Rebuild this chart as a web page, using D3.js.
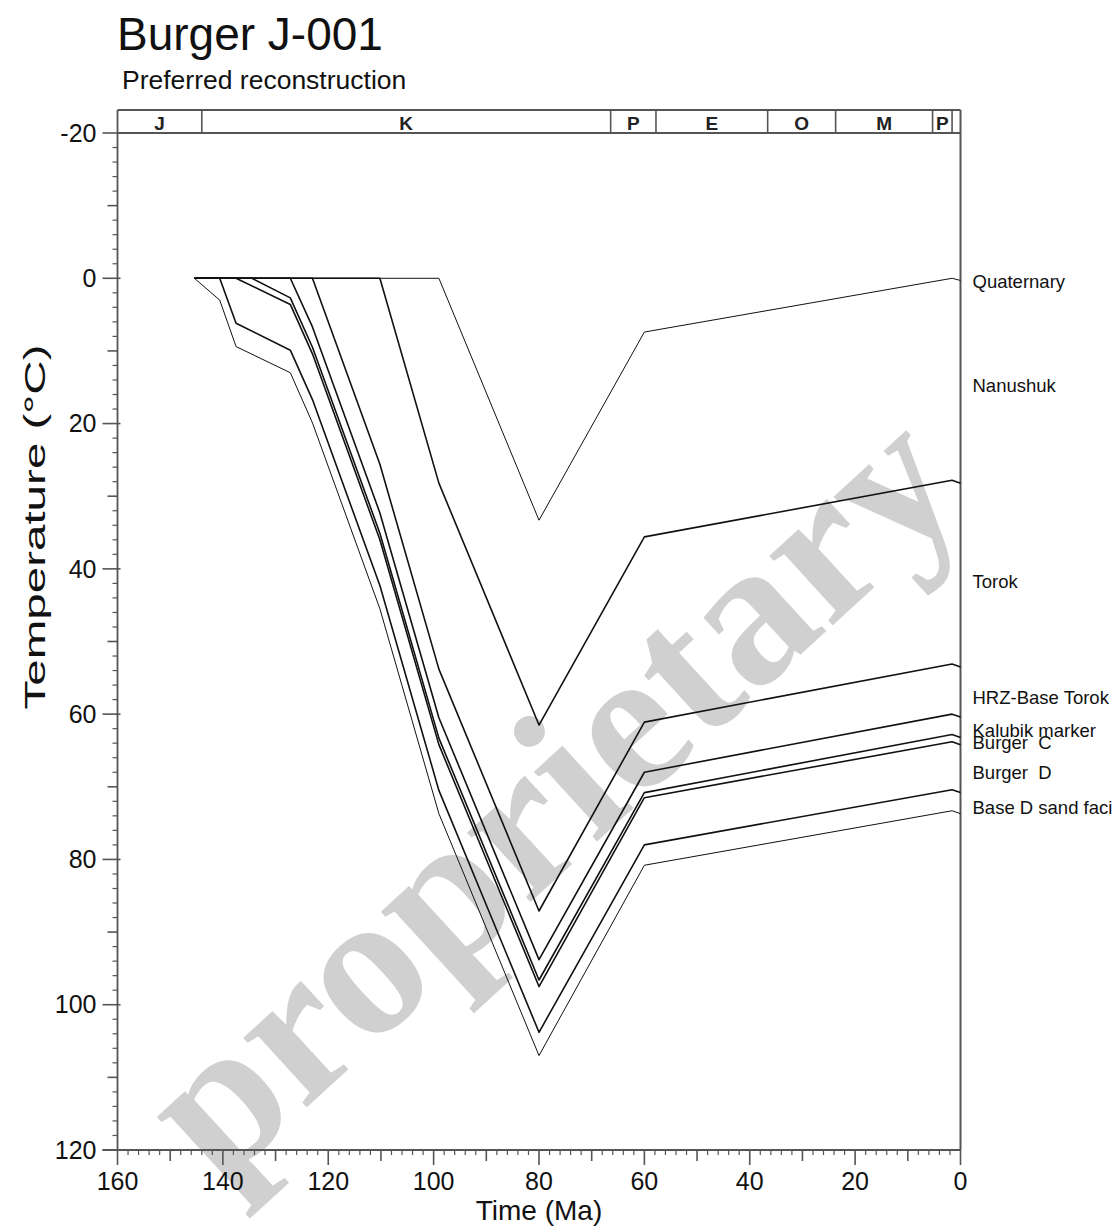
<!DOCTYPE html>
<html>
<head>
<meta charset="utf-8">
<script src="https://cdn.jsdelivr.net/npm/d3@7"></script>
<style>
    body { margin: 0; background: #fff; }
    svg text { font-family: "Liberation Sans", Arial, sans-serif; }
</style>
</head>
<body>
<div id="chart"></div>
<script>
// burial / temperature history of each horizon: [age Ma, temperature °C]
const lineA = [[145.4, 0], [140.6, 3.0], [137.5, 9.4], [127.2, 13.0], [123, 19.9], [110.2, 45.5], [99, 73.7], [80, 107.0], [60, 80.8], [1.6, 73.3], [0, 73.7]];
const lineB = [[145.4, 0], [140.6, 0], [137.5, 6.2], [127.2, 9.9], [123, 16.7], [110.2, 42.3], [99, 70.5], [80, 103.8], [60, 78.0], [1.6, 70.4], [0, 70.8]];
const lineC = [[145.4, 0], [137.5, 0], [127.2, 3.6], [123, 10.4], [110.2, 36.0], [99, 64.2], [80, 97.5], [60, 71.5], [1.6, 63.8], [0, 64.2]];
const lineD = [[145.4, 0], [134.5, 0], [127.2, 2.7], [123, 9.5], [110.2, 35.1], [99, 63.3], [80, 96.6], [60, 70.8], [1.6, 62.8], [0, 63.2]];
const lineE = [[145.4, 0], [127.2, 0], [123, 6.7], [110.2, 32.3], [99, 60.5], [80, 93.8], [60, 68.0], [1.6, 60.0], [0, 60.4]];
const lineF = [[145.4, 0], [123, 0], [110.2, 25.6], [99, 53.8], [80, 87.1], [60, 61.1], [1.6, 53.1], [0, 53.5]];
const lineG = [[145.4, 0], [110.2, 0], [99, 28.2], [80, 61.5], [60, 35.6], [1.6, 27.8], [0, 28.2]];
const lineH = [[145.4, 0], [99, 0], [80, 33.3], [60, 7.4], [1.6, 0], [0, 0.3]];
const lines = [lineA, lineB, lineC, lineD, lineE, lineF, lineG, lineH];
const lineWidths = [1, 1.6, 1.6, 1.6, 1.6, 1.6, 1.6, 1];

// unit names on the right side and where they sit (°C)
const unitNames = ['Quaternary', 'Nanushuk', 'Torok', 'HRZ-Base Torok', 'Kalubik marker', 'Burger  C', 'Burger  D', 'Base D sand faci'];
const unitTemps = [0.4, 14.8, 41.7, 57.7, 62.2, 63.9, 68.1, 72.8];

// geologic time bar
const periodNames = ['J', 'K', 'P', 'E', 'O', 'M', 'P', ''];
const periodBounds = [160, 144, 66.4, 57.8, 36.6, 23.7, 5.3, 1.6, 0];

const xTicks = [160, 140, 120, 100, 80, 60, 40, 20, 0];
const yTicks = [-20, 0, 20, 40, 60, 80, 100, 120];

const width = 1115;
const height = 1232;
const margin = {top: 133, bottom: 82, left: 117.5, right: 154.5};
const barHeight = 23;

const x = d3.scaleLinear()
    .domain([160, 0])
    .range([margin.left, width - margin.right]);

const y = d3.scaleLinear()
    .domain([-20, 120])
    .range([margin.top, height - margin.bottom]);

const svg = d3.select('#chart')
    .append('svg')
    .attr('width', width)
    .attr('height', height);

// watermark
svg.append('text')
    .attr('transform', `translate(548,792) rotate(-42.5)`)
    .attr('text-anchor', 'middle')
    .attr('dominant-baseline', 'central')
    .style('font-family', '"Liberation Serif", "DejaVu Serif", serif')
    .style('font-weight', 'bold')
    .style('font-size', '205px')
    .style('fill', '#d0d0d0')
    .text('proprietary');

// title
svg.append('text')
    .attr('x', 117)
    .attr('y', 50)
    .style('font-size', '46px')
    .style('fill', '#111')
    .text('Burger J-001');

svg.append('text')
    .attr('x', 122)
    .attr('y', 89)
    .style('font-size', '26.5px')
    .style('fill', '#111')
    .text('Preferred reconstruction');

// axes
const axisColor = '#555';

const minorX = d3.range(0, 161, 2);
const minorY = d3.range(-20, 121, 2);

const gx = svg.append('g')
    .attr('class', 'x axis')
    .attr('transform', `translate(0,${y(120)})`);

gx.selectAll('.tick-line')
    .data(minorX)
    .enter().append('line')
    .attr('x1', d => x(d))
    .attr('x2', d => x(d))
    .attr('y1', 0)
    .attr('y2', d => d % 20 === 0 ? 15 : (d % 10 === 0 ? 11 : 5))
    .attr('stroke', axisColor)
    .attr('stroke-width', d => d % 10 === 0 ? 1.6 : 1.2);

gx.append('line')
    .attr('x1', x(160) - 15)
    .attr('x2', x(0))
    .attr('stroke', axisColor)
    .attr('stroke-width', 1.8);

gx.selectAll('.label')
    .data(xTicks)
    .enter().append('text')
    .attr('x', d => x(d))
    .attr('y', 40)
    .attr('text-anchor', 'middle')
    .style('font-size', '25px')
    .style('fill', '#111')
    .text(d => d);

const gy = svg.append('g')
    .attr('class', 'y axis')
    .attr('transform', `translate(${x(160)},0)`);

gy.selectAll('.tick-line')
    .data(minorY)
    .enter().append('line')
    .attr('x1', d => d % 20 === 0 ? 3 : 0)
    .attr('x2', d => d % 20 === 0 ? -15 : (d % 10 === 0 ? -10 : -5))
    .attr('y1', d => y(d))
    .attr('y2', d => y(d))
    .attr('stroke', axisColor)
    .attr('stroke-width', d => d % 10 === 0 ? 1.6 : 1.2);

gy.append('line')
    .attr('y1', y(-20) - barHeight)
    .attr('y2', y(120))
    .attr('stroke', axisColor)
    .attr('stroke-width', 1.8);

gy.selectAll('.label')
    .data(yTicks)
    .enter().append('text')
    .attr('x', -21)
    .attr('y', d => y(d))
    .attr('dy', '0.35em')
    .attr('text-anchor', 'end')
    .style('font-size', '25px')
    .style('fill', '#111')
    .text(d => d);

// right border
svg.append('line')
    .attr('x1', x(0))
    .attr('x2', x(0))
    .attr('y1', y(-20) - barHeight)
    .attr('y2', y(120))
    .attr('stroke', axisColor)
    .attr('stroke-width', 2);

// period bar
const bar = svg.append('g').attr('class', 'periods');

bar.append('line')
    .attr('x1', x(160))
    .attr('x2', x(0))
    .attr('y1', y(-20) - barHeight)
    .attr('y2', y(-20) - barHeight)
    .attr('stroke', axisColor)
    .attr('stroke-width', 1.8);

bar.append('line')
    .attr('x1', x(160))
    .attr('x2', x(0))
    .attr('y1', y(-20))
    .attr('y2', y(-20))
    .attr('stroke', axisColor)
    .attr('stroke-width', 1.8);

bar.selectAll('.bound')
    .data(periodBounds.slice(1, -1))
    .enter().append('line')
    .attr('x1', d => x(d))
    .attr('x2', d => x(d))
    .attr('y1', y(-20) - barHeight)
    .attr('y2', y(-20))
    .attr('stroke', axisColor)
    .attr('stroke-width', 1.6);

bar.selectAll('.pname')
    .data(periodNames)
    .enter().append('text')
    .attr('x', (d, i) => (x(periodBounds[i]) + x(periodBounds[i + 1])) / 2)
    .attr('y', y(-20) - 3)
    .attr('text-anchor', 'middle')
    .style('font-size', '19px')
    .style('font-weight', 'bold')
    .style('fill', '#222')
    .text(d => d);

// axis titles
svg.append('text')
    .attr('x', x(80))
    .attr('y', 1220)
    .attr('text-anchor', 'middle')
    .style('font-size', '28px')
    .style('fill', '#111')
    .text('Time (Ma)');

svg.append('text')
    .attr('transform', `translate(45,527) rotate(-90)`)
    .attr('text-anchor', 'middle')
    .attr('textLength', 365)
    .attr('lengthAdjust', 'spacingAndGlyphs')
    .style('font-size', '30px')
    .style('fill', '#111')
    .text('Temperature (°C)');

// horizon lines
const line = d3.line()
    .x(d => x(d[0]))
    .y(d => y(d[1]));

svg.selectAll('.horizon')
    .data(lines)
    .enter().append('path')
    .attr('class', 'horizon')
    .attr('fill', 'none')
    .attr('stroke', '#111')
    .attr('stroke-linejoin', 'round')
    .attr('stroke-width', (d, i) => lineWidths[i])
    .attr('d', line);

// unit labels
svg.selectAll('.unit')
    .data(unitNames)
    .enter().append('text')
    .attr('class', 'unit')
    .attr('x', x(0) + 12)
    .attr('y', (d, i) => y(unitTemps[i]))
    .attr('dy', '0.35em')
    .style('font-size', '18.5px')
    .style('fill', '#111')
    .style('white-space', 'pre')
    .text(d => d);
</script>
</body>
</html>
